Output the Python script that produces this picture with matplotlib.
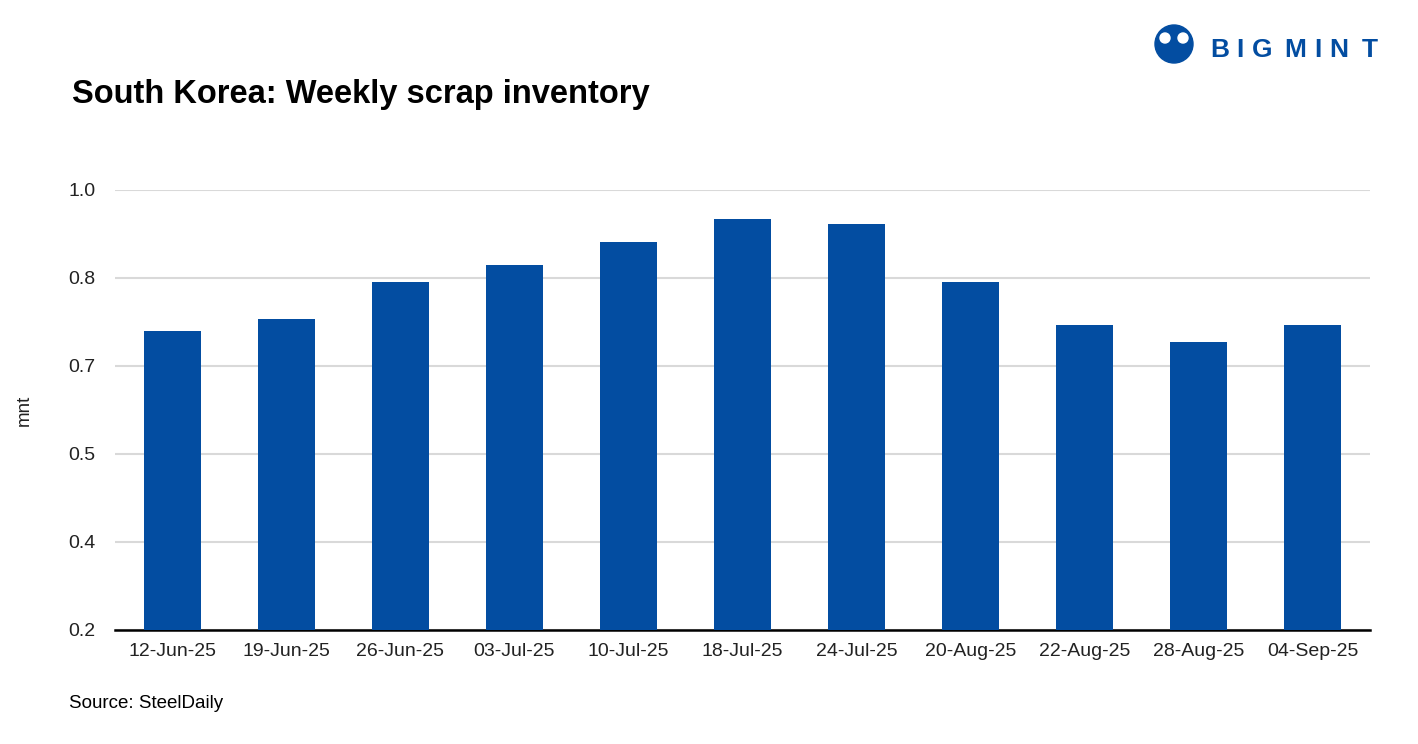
import matplotlib.pyplot as plt
from matplotlib.patches import Ellipse

weeks = ['12-Jun-25', '19-Jun-25', '26-Jun-25', '03-Jul-25', '10-Jul-25', '18-Jul-25',
         '24-Jul-25', '20-Aug-25', '22-Aug-25', '28-Aug-25', '04-Sep-25']
inventory = [0.744, 0.765, 0.833, 0.864, 0.905, 0.947, 0.938, 0.833, 0.755, 0.724, 0.755]
yticks = [0.2, 0.36, 0.52, 0.68, 0.84, 1.0]

BLUE = '#034da1'
W, H = 1418, 744
plt.rcParams['font.family'] = ['Liberation Sans', 'DejaVu Sans']

fig = plt.figure(figsize=(W / 100, H / 100), dpi=100)
ax = fig.add_axes([115 / W, 1 - 630 / H, (1370 - 115) / W, 440 / H])

x = range(len(weeks))
ax.bar(x, inventory, width=0.5, color=BLUE, zorder=3)
ax.set_xlim(-0.5, len(weeks) - 0.5)
ax.set_ylim(0.2, 1.0)
ax.set_yticks(yticks)
ax.set_yticklabels(['%.1f' % v for v in yticks])
ax.set_xticks(list(x))
ax.set_xticklabels(weeks)
ax.tick_params(axis='both', length=0, labelsize=14, colors='#222222')
ax.tick_params(axis='x', pad=9)
ax.tick_params(axis='y', pad=14)
ax.grid(axis='y', color='#d9d9d9', linewidth=1.5, zorder=0)
for s in ['top', 'right', 'left']:
    ax.spines[s].set_visible(False)
ax.spines['bottom'].set_linewidth(1.8)
ax.spines['bottom'].set_color('black')

fig.text(24 / W, 1 - 410 / H, 'mnt', fontsize=13.5, rotation=90, va='center', ha='center',
         color='#222222')
fig.text(72 / W, 1 - 94 / H, 'South Korea: Weekly scrap inventory', fontsize=23.5,
         fontweight='bold', va='center', ha='left')
fig.text(69 / W, 1 - 704 / H, 'Source: SteelDaily', fontsize=13.5, va='center', ha='left')

# logo
logo_x = [1220, 1240, 1262, 1295, 1318, 1339, 1370]
for ch, lx in zip('BIGMINT', logo_x):
    fig.text(lx / W, 1 - 50 / H, ch, fontsize=19, fontweight='heavy', color=BLUE,
             va='center', ha='center')
fig.patches.append(Ellipse((1174 / W, 1 - 44 / H), 38 / W, 38 / H,
                           transform=fig.transFigure, color=BLUE, figure=fig))
for hx in (1165, 1183):
    fig.patches.append(Ellipse((hx / W, 1 - 38 / H), 10 / W, 10 / H,
                               transform=fig.transFigure, color='white', figure=fig))

fig.savefig('out.png', dpi=100)
